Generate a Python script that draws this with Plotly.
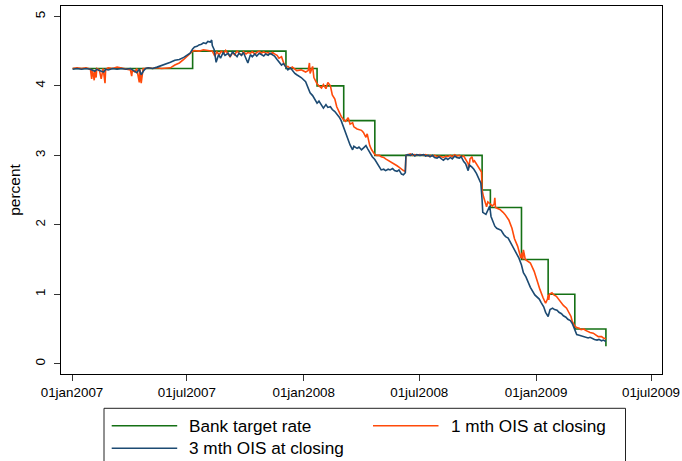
import plotly.graph_objects as go

# ---------------- data ----------------
target_dates = ["2007-01-02", "2007-07-10", "2007-12-04", "2008-01-22", "2008-03-04",
                "2008-04-22", "2008-10-08", "2008-10-21", "2008-12-09", "2009-01-20",
                "2009-03-03", "2009-04-21"]
target_rate = [4.25, 4.50, 4.25, 4.00, 3.50, 3.00, 2.50, 2.25, 1.50, 1.00, 0.50, 0.25]

ois1_dates = [
    "2007-01-02", "2007-01-09", "2007-01-16", "2007-01-23", "2007-01-30", "2007-02-01", "2007-02-02",
    "2007-02-05", "2007-02-06", "2007-02-08", "2007-02-09", "2007-02-13", "2007-02-16", "2007-02-19",
    "2007-02-22", "2007-02-23", "2007-02-27", "2007-03-06", "2007-03-13", "2007-03-20", "2007-03-27",
    "2007-04-03", "2007-04-05", "2007-04-06", "2007-04-10", "2007-04-13", "2007-04-17", "2007-04-18",
    "2007-04-20", "2007-04-23", "2007-04-27", "2007-05-01", "2007-05-08", "2007-05-15", "2007-05-22",
    "2007-05-29", "2007-06-05", "2007-06-12", "2007-06-19", "2007-06-26", "2007-07-03", "2007-07-06",
    "2007-07-10", "2007-07-13", "2007-07-20", "2007-07-27", "2007-08-03", "2007-08-10", "2007-08-14",
    "2007-08-17", "2007-08-21", "2007-08-24", "2007-08-28", "2007-08-31", "2007-09-04", "2007-09-07",
    "2007-09-11", "2007-09-14", "2007-09-18", "2007-09-21", "2007-09-25", "2007-09-28", "2007-10-02",
    "2007-10-05", "2007-10-09", "2007-10-12", "2007-10-16", "2007-10-19", "2007-10-23", "2007-10-26",
    "2007-10-30", "2007-11-02", "2007-11-06", "2007-11-09", "2007-11-13", "2007-11-16", "2007-11-20",
    "2007-11-23", "2007-11-27", "2007-11-30", "2007-12-04", "2007-12-07", "2007-12-11", "2007-12-14",
    "2007-12-18", "2007-12-21", "2007-12-28", "2008-01-04", "2008-01-08", "2008-01-10", "2008-01-11",
    "2008-01-15", "2008-01-17", "2008-01-22", "2008-01-25", "2008-01-29", "2008-02-01", "2008-02-05",
    "2008-02-08", "2008-02-12", "2008-02-15", "2008-02-19", "2008-02-22", "2008-02-26", "2008-02-29",
    "2008-03-04", "2008-03-07", "2008-03-11", "2008-03-14", "2008-03-18", "2008-03-20", "2008-03-25",
    "2008-03-28", "2008-04-01", "2008-04-04", "2008-04-08", "2008-04-10", "2008-04-14", "2008-04-17",
    "2008-04-22", "2008-04-25", "2008-04-29", "2008-05-02", "2008-05-06", "2008-05-09", "2008-05-13",
    "2008-05-16", "2008-05-20", "2008-05-23", "2008-05-27", "2008-05-30", "2008-06-03", "2008-06-06",
    "2008-06-09", "2008-06-10", "2008-06-13", "2008-06-17", "2008-06-20", "2008-06-24", "2008-06-27",
    "2008-07-02", "2008-07-08", "2008-07-11", "2008-07-15", "2008-07-18", "2008-07-22", "2008-07-25",
    "2008-07-29", "2008-08-01", "2008-08-05", "2008-08-08", "2008-08-12", "2008-08-15", "2008-08-19",
    "2008-08-22", "2008-08-26", "2008-08-29", "2008-09-02", "2008-09-05", "2008-09-09", "2008-09-12",
    "2008-09-16", "2008-09-17", "2008-09-19", "2008-09-22", "2008-09-24", "2008-09-26", "2008-09-30",
    "2008-10-03", "2008-10-07", "2008-10-08", "2008-10-10", "2008-10-15", "2008-10-17", "2008-10-21",
    "2008-10-24", "2008-10-27", "2008-10-28", "2008-10-29", "2008-10-31", "2008-11-05", "2008-11-10",
    "2008-11-13", "2008-11-19", "2008-11-24", "2008-11-28", "2008-12-03", "2008-12-08", "2008-12-10",
    "2008-12-11", "2008-12-12", "2008-12-15", "2008-12-19", "2008-12-23", "2008-12-29", "2009-01-02",
    "2009-01-07", "2009-01-12", "2009-01-16", "2009-01-19", "2009-01-20", "2009-01-21", "2009-01-22",
    "2009-01-26", "2009-01-29", "2009-02-02", "2009-02-05", "2009-02-10", "2009-02-13", "2009-02-18",
    "2009-02-20", "2009-02-25", "2009-02-27", "2009-03-03", "2009-03-06", "2009-03-10", "2009-03-13",
    "2009-03-17", "2009-03-20", "2009-03-24", "2009-03-27", "2009-04-01", "2009-04-03", "2009-04-07",
    "2009-04-09", "2009-04-14", "2009-04-17", "2009-04-21"]
ois1_values = [
    4.25, 4.26, 4.25, 4.26, 4.24, 4.10, 4.24,
    4.08, 4.22, 4.12, 4.25, 4.23, 4.10, 4.25,
    4.04, 4.24, 4.26, 4.25, 4.27, 4.26, 4.25,
    4.23, 4.14, 4.22, 4.20, 4.25, 4.05, 4.24,
    4.04, 4.25, 4.25, 4.26, 4.25, 4.26, 4.25,
    4.26, 4.26, 4.30, 4.33, 4.38, 4.44, 4.48,
    4.50, 4.51, 4.50, 4.52, 4.51, 4.50, 4.43,
    4.49, 4.45, 4.50, 4.47, 4.51, 4.46, 4.42,
    4.48, 4.45, 4.50, 4.47, 4.44, 4.49, 4.46,
    4.48, 4.47, 4.49, 4.46, 4.48, 4.50, 4.47,
    4.49, 4.47, 4.48, 4.46, 4.48, 4.46, 4.44,
    4.40, 4.42, 4.34, 4.27, 4.28, 4.25, 4.27,
    4.24, 4.22, 4.23, 4.20, 4.22, 4.33, 4.18,
    4.28, 4.12, 4.03, 4.00, 3.97, 4.02, 3.96,
    4.05, 4.00, 3.87, 3.81, 3.70, 3.62, 3.56,
    3.51, 3.49, 3.54, 3.45, 3.47, 3.41, 3.38,
    3.37, 3.36, 3.33, 3.26, 3.31, 3.14, 3.08,
    3.01, 3.00, 3.00, 2.98, 2.97, 2.95, 2.93,
    2.91, 2.89, 2.88, 2.85, 2.83, 2.80, 2.78,
    2.77, 3.00, 3.01, 3.02, 3.00, 3.01, 3.00,
    3.01, 3.00, 3.01, 2.99, 3.00, 2.99, 3.00,
    2.98, 2.99, 2.98, 2.97, 2.99, 2.98, 3.00,
    2.98, 3.01, 2.99, 3.00, 2.98, 2.99, 2.95,
    2.88, 2.82, 2.95, 2.98, 2.90, 2.92, 2.86,
    2.80, 2.76, 2.50, 2.41, 2.26, 2.33, 2.30,
    2.27, 2.30, 2.39, 2.25, 2.24, 2.22, 2.18,
    2.15, 2.07, 1.95, 1.80, 1.69, 1.52, 1.60,
    1.50, 1.64, 1.50, 1.48, 1.45, 1.33, 1.21,
    1.07, 0.95, 0.87, 0.93, 0.99, 0.92, 1.00,
    1.02, 0.99, 0.97, 0.93, 0.87, 0.84, 0.80,
    0.76, 0.68, 0.61, 0.54, 0.52, 0.51, 0.49,
    0.50, 0.48, 0.46, 0.45, 0.44, 0.43, 0.41,
    0.39, 0.39, 0.37, 0.36]

ois3_dates = [
    "2007-01-02", "2007-01-09", "2007-01-16", "2007-01-23", "2007-01-30", "2007-02-06", "2007-02-09",
    "2007-02-13", "2007-02-20", "2007-02-23", "2007-02-27", "2007-03-06", "2007-03-13", "2007-03-20",
    "2007-03-27", "2007-04-03", "2007-04-10", "2007-04-13", "2007-04-17", "2007-04-20", "2007-04-24",
    "2007-04-27", "2007-05-01", "2007-05-08", "2007-05-15", "2007-05-22", "2007-05-29", "2007-06-05",
    "2007-06-12", "2007-06-19", "2007-06-26", "2007-07-03", "2007-07-06", "2007-07-10", "2007-07-13",
    "2007-07-17", "2007-07-20", "2007-07-24", "2007-07-27", "2007-07-31", "2007-08-03", "2007-08-07",
    "2007-08-09", "2007-08-10", "2007-08-13", "2007-08-16", "2007-08-20", "2007-08-23", "2007-08-27",
    "2007-08-30", "2007-09-04", "2007-09-07", "2007-09-11", "2007-09-14", "2007-09-18", "2007-09-21",
    "2007-09-25", "2007-09-28", "2007-10-02", "2007-10-05", "2007-10-09", "2007-10-12", "2007-10-16",
    "2007-10-19", "2007-10-23", "2007-10-26", "2007-10-30", "2007-11-02", "2007-11-06", "2007-11-09",
    "2007-11-13", "2007-11-16", "2007-11-20", "2007-11-23", "2007-11-27", "2007-11-30", "2007-12-04",
    "2007-12-07", "2007-12-11", "2007-12-14", "2007-12-18", "2007-12-21", "2007-12-28", "2008-01-04",
    "2008-01-08", "2008-01-11", "2008-01-15", "2008-01-18", "2008-01-22", "2008-01-25", "2008-01-29",
    "2008-02-01", "2008-02-05", "2008-02-08", "2008-02-12", "2008-02-15", "2008-02-19", "2008-02-22",
    "2008-02-26", "2008-02-29", "2008-03-04", "2008-03-07", "2008-03-11", "2008-03-14", "2008-03-18",
    "2008-03-20", "2008-03-25", "2008-03-28", "2008-04-01", "2008-04-04", "2008-04-08", "2008-04-11",
    "2008-04-15", "2008-04-18", "2008-04-22", "2008-04-25", "2008-04-29", "2008-05-02", "2008-05-06",
    "2008-05-09", "2008-05-13", "2008-05-16", "2008-05-20", "2008-05-23", "2008-05-27", "2008-05-30",
    "2008-06-03", "2008-06-06", "2008-06-09", "2008-06-10", "2008-06-13", "2008-06-17", "2008-06-20",
    "2008-06-24", "2008-06-27", "2008-07-02", "2008-07-08", "2008-07-11", "2008-07-15", "2008-07-18",
    "2008-07-22", "2008-07-25", "2008-07-29", "2008-08-01", "2008-08-05", "2008-08-08", "2008-08-12",
    "2008-08-15", "2008-08-19", "2008-08-22", "2008-08-26", "2008-08-29", "2008-09-02", "2008-09-05",
    "2008-09-09", "2008-09-12", "2008-09-16", "2008-09-18", "2008-09-22", "2008-09-25", "2008-09-29",
    "2008-10-01", "2008-10-03", "2008-10-06", "2008-10-08", "2008-10-09", "2008-10-14", "2008-10-17",
    "2008-10-20", "2008-10-22", "2008-10-24", "2008-10-28", "2008-10-31", "2008-11-04", "2008-11-07",
    "2008-11-11", "2008-11-14", "2008-11-18", "2008-11-21", "2008-11-25", "2008-11-28", "2008-12-02",
    "2008-12-05", "2008-12-09", "2008-12-12", "2008-12-16", "2008-12-19", "2008-12-23", "2008-12-30",
    "2009-01-02", "2009-01-06", "2009-01-09", "2009-01-13", "2009-01-16", "2009-01-20", "2009-01-23",
    "2009-01-27", "2009-01-30", "2009-02-03", "2009-02-06", "2009-02-10", "2009-02-13", "2009-02-17",
    "2009-02-20", "2009-02-24", "2009-02-27", "2009-03-03", "2009-03-06", "2009-03-10", "2009-03-13",
    "2009-03-17", "2009-03-20", "2009-03-24", "2009-03-27", "2009-03-31", "2009-04-03", "2009-04-07",
    "2009-04-10", "2009-04-14", "2009-04-17", "2009-04-21"]
ois3_values = [
    4.24, 4.25, 4.24, 4.25, 4.24, 4.21, 4.24,
    4.22, 4.20, 4.24, 4.23, 4.25, 4.24, 4.25,
    4.24, 4.25, 4.21, 4.19, 4.24, 4.16, 4.22,
    4.25, 4.26, 4.25, 4.27, 4.29, 4.31, 4.34,
    4.37, 4.38, 4.41, 4.45, 4.47, 4.53, 4.56,
    4.57, 4.59, 4.60, 4.62, 4.61, 4.64, 4.63,
    4.66, 4.58, 4.52, 4.34, 4.45, 4.40, 4.48,
    4.44, 4.47, 4.42, 4.49, 4.46, 4.42, 4.47,
    4.44, 4.48, 4.40, 4.33, 4.45, 4.42, 4.46,
    4.43, 4.47, 4.45, 4.43, 4.46, 4.44, 4.47,
    4.45, 4.43, 4.38, 4.35, 4.30, 4.32, 4.27,
    4.23, 4.26, 4.22, 4.18, 4.16, 4.12, 4.06,
    3.98, 3.90, 3.86, 3.82, 3.75, 3.78, 3.72,
    3.68, 3.73, 3.69, 3.70, 3.66, 3.63, 3.60,
    3.55, 3.50, 3.40, 3.30, 3.22, 3.15, 3.08,
    3.13, 3.10, 3.12, 3.08, 3.11, 3.14, 3.09,
    3.02, 2.98, 2.94, 2.89, 2.83, 2.79, 2.80,
    2.78, 2.80, 2.79, 2.81, 2.78, 2.77, 2.79,
    2.73, 2.72, 2.75, 3.00, 3.01, 3.00, 3.02,
    2.99, 3.01, 3.00, 3.01, 2.99, 3.00, 2.98,
    3.00, 2.97, 2.96, 2.98, 2.95, 2.93, 2.96,
    2.94, 2.97, 2.95, 2.99, 2.97, 2.96, 2.98,
    2.91, 2.88, 2.78, 2.86, 2.83, 2.80, 2.74,
    2.70, 2.65, 2.60, 2.35, 2.18, 2.15, 2.20,
    2.27, 2.12, 2.07, 1.98, 1.95, 1.93, 1.92,
    1.86, 1.83, 1.81, 1.76, 1.69, 1.64, 1.57,
    1.52, 1.42, 1.31, 1.25, 1.18, 1.10, 0.99,
    0.96, 0.93, 0.88, 0.82, 0.74, 0.68, 0.78,
    0.80, 0.78, 0.77, 0.74, 0.72, 0.69, 0.67,
    0.64, 0.62, 0.58, 0.50, 0.42, 0.41, 0.40,
    0.39, 0.38, 0.37, 0.38, 0.36, 0.35, 0.34,
    0.35, 0.33, 0.34, 0.32]

series_names = ["Bank target rate", "1 mth OIS at closing", "3 mth OIS at closing"]
series_colors = ["#157015", "#ff4a0a", "#1c4a72"]

x_tick_vals = ["2007-01-01", "2007-07-01", "2008-01-01", "2008-07-01", "2009-01-01", "2009-07-01"]
x_tick_text = ["01jan2007", "01jul2007", "01jan2008", "01jul2008", "01jan2009", "01jul2009"]
y_tick_vals = [0, 1, 2, 3, 4, 5]

# ---------------- figure ----------------
W, H = 682, 461
ML, MR, MT, MB = 61, 20, 6, 87
PW, PH = W - ML - MR, H - MT - MB
FONT = "Arial, 'Liberation Sans', Helvetica, sans-serif"
LW = 1.6

fig = go.Figure()
fig.add_trace(go.Scatter(x=target_dates, y=target_rate, mode="lines", name=series_names[0],
                         line=dict(color=series_colors[0], width=LW, shape="hv")))
fig.add_trace(go.Scatter(x=ois1_dates, y=ois1_values, mode="lines", name=series_names[1],
                         line=dict(color=series_colors[1], width=LW)))
fig.add_trace(go.Scatter(x=ois3_dates, y=ois3_values, mode="lines", name=series_names[2],
                         line=dict(color=series_colors[2], width=LW)))

fig.update_layout(
    width=W, height=H,
    margin=dict(l=ML, r=MR, t=MT, b=MB, pad=0),
    paper_bgcolor="white", plot_bgcolor="white",
    showlegend=False,
    font=dict(family=FONT, color="black", size=13.4),
)
fig.update_xaxes(
    type="date", range=["2006-12-14 16:00", "2009-07-18 08:00"],
    tickmode="array", tickvals=x_tick_vals, ticktext=x_tick_text,
    ticks="outside", ticklen=6, tickwidth=1, tickcolor="#333333",
    showgrid=False, zeroline=False,
    showline=True, linecolor="black", linewidth=1, mirror=True,
    tickfont=dict(size=13.4), automargin=False,
)
fig.update_yaxes(
    range=[-0.148, 5.15], tickmode="array", tickvals=y_tick_vals,
    tickangle=-90, ticks="outside", ticklen=6, tickwidth=1, tickcolor="#333333",
    showgrid=False, zeroline=False,
    showline=True, linecolor="black", linewidth=1, mirror=True,
    tickfont=dict(size=13.4), ticklabelstandoff=4,
    title=dict(text="percent", font=dict(size=15.5), standoff=8), automargin=False,
)

# ---------------- legend box (Stata-style) ----------------
def px(xp):
    return (xp - ML) / PW

def py(yp):
    return (H - MB - yp) / PH

fig.add_shape(type="rect", xref="paper", yref="paper",
              x0=px(104), x1=px(625.5), y0=py(408.3), y1=py(470),
              line=dict(color="#222222", width=1), fillcolor="white", layer="above")

legend_slots = [(111.7, 425.7), (373, 425.7), (111.7, 448.3)]
for name, color, (lx, ly) in zip(series_names, series_colors, legend_slots):
    fig.add_shape(type="line", xref="paper", yref="paper",
                  x0=px(lx), x1=px(lx + 65.5), y0=py(ly), y1=py(ly),
                  line=dict(color=color, width=LW), layer="above")
    fig.add_annotation(text=name, xref="paper", yref="paper",
                       x=px(lx + 75.5), y=py(ly), xanchor="left", yanchor="middle",
                       showarrow=False, font=dict(size=17.2, family=FONT, color="black"))

fig.write_html("out.html")
